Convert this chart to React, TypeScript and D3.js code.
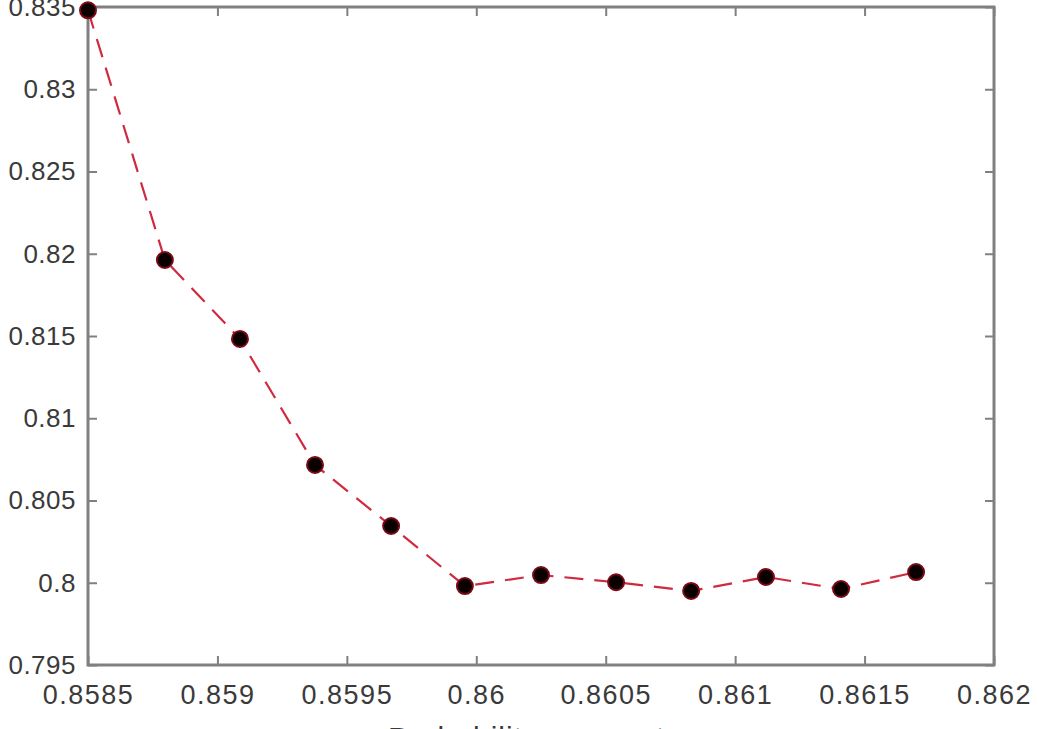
import React, { useRef, useEffect } from 'react';
import * as d3 from 'd3';

// values
const xValues = [0.8585, 0.858797, 0.859087, 0.859377, 0.859671, 0.859956, 0.86025, 0.86054, 0.86083, 0.861119, 0.861409, 0.861699];
const yValues = [0.8348, 0.81962, 0.81482, 0.80716, 0.80345, 0.7998, 0.80047, 0.80003, 0.7995, 0.80035, 0.79962, 0.80065];

const xTicks = [0.8585, 0.859, 0.8595, 0.86, 0.8605, 0.861, 0.8615, 0.862];
const xTickLabels = ['0.8585', '0.859', '0.8595', '0.86', '0.8605', '0.861', '0.8615', '0.862'];
const yTicks = [0.795, 0.8, 0.805, 0.81, 0.815, 0.82, 0.825, 0.83, 0.835];
const yTickLabels = ['0.795', '0.8', '0.805', '0.81', '0.815', '0.82', '0.825', '0.83', '0.835'];

const xTitle = 'Probability parameter';

const App = () => {
  const svgRef = useRef<SVGSVGElement>(null);

  useEffect(() => {
    const width = 1038;
    const height = 729;
    const left = 88, right = 994, top = 7, bottom = 665;
    const axisColor = '#808080';
    const textColor = '#3a3a3a';
    const font = '"Liberation Sans", Arial, sans-serif';

    const svg = d3.select(svgRef.current)
      .attr('width', width)
      .attr('height', height);
    svg.selectAll('*').remove();

    const x = d3.scaleLinear().domain([0.8585, 0.862]).range([left, right]);
    const y = d3.scaleLinear().domain([0.795, 0.835]).range([bottom, top]);

    svg.append('rect')
      .attr('width', width).attr('height', height).attr('fill', '#fff');

    const styleAxis = (g, size = 26, spacing = 0) => {
      g.select('.domain').remove();
      g.selectAll('line').attr('stroke', axisColor).attr('stroke-width', 2);
      g.selectAll('text')
        .attr('fill', textColor)
        .attr('font-family', font)
        .attr('font-size', size)
        .attr('letter-spacing', spacing);
    };

    // left axis with labels, ticks pointing in
    svg.append('g')
      .attr('transform', `translate(${left},0)`)
      .call(d3.axisLeft(y).tickValues(yTicks).tickFormat((d, i) => yTickLabels[i])
        .tickSizeInner(-9).tickSizeOuter(0).tickPadding(12))
      .call(g => styleAxis(g, 26, 0.5));

    // right axis, ticks only
    svg.append('g')
      .attr('transform', `translate(${right},0)`)
      .call(d3.axisRight(y).tickValues(yTicks).tickFormat(() => '')
        .tickSizeInner(-9).tickSizeOuter(0))
      .call(g => styleAxis(g));

    // bottom axis with labels
    svg.append('g')
      .attr('transform', `translate(0,${bottom})`)
      .call(d3.axisBottom(x).tickValues(xTicks).tickFormat((d, i) => xTickLabels[i])
        .tickSizeInner(-9).tickSizeOuter(0).tickPadding(20))
      .call(g => styleAxis(g, 27, 1.5));

    // top axis, ticks only
    svg.append('g')
      .attr('transform', `translate(0,${top})`)
      .call(d3.axisTop(x).tickValues(xTicks).tickFormat(() => '')
        .tickSizeInner(-9).tickSizeOuter(0))
      .call(g => styleAxis(g));

    // box
    svg.append('rect')
      .attr('x', left).attr('y', top)
      .attr('width', right - left).attr('height', bottom - top)
      .attr('fill', 'none')
      .attr('stroke', axisColor)
      .attr('stroke-width', 3);

    const points = xValues.map((v, i) => [v, yValues[i]]);

    const line = d3.line()
      .x(d => x(d[0]))
      .y(d => y(d[1]));

    svg.append('path')
      .datum(points)
      .attr('d', line)
      .attr('fill', 'none')
      .attr('stroke', '#cf2a40')
      .attr('stroke-width', 2.2)
      .attr('stroke-dasharray', '19 11');

    svg.append('g')
      .selectAll('circle')
      .data(points)
      .join('circle')
      .attr('cx', d => x(d[0]))
      .attr('cy', d => y(d[1]))
      .attr('r', 8)
      .attr('fill', '#0a0000')
      .attr('stroke', '#7a0a18')
      .attr('stroke-width', 2);

    svg.append('text')
      .attr('x', (left + right) / 2)
      .attr('y', 748)
      .attr('text-anchor', 'middle')
      .attr('fill', textColor)
      .attr('font-family', font)
      .attr('font-size', 30)
      .attr('letter-spacing', 1)
      .text(xTitle);
  }, []);

  return (
    <svg ref={svgRef} style={{ position: 'absolute', left: 0, top: 0 }}></svg>
  );
};

export default App;
